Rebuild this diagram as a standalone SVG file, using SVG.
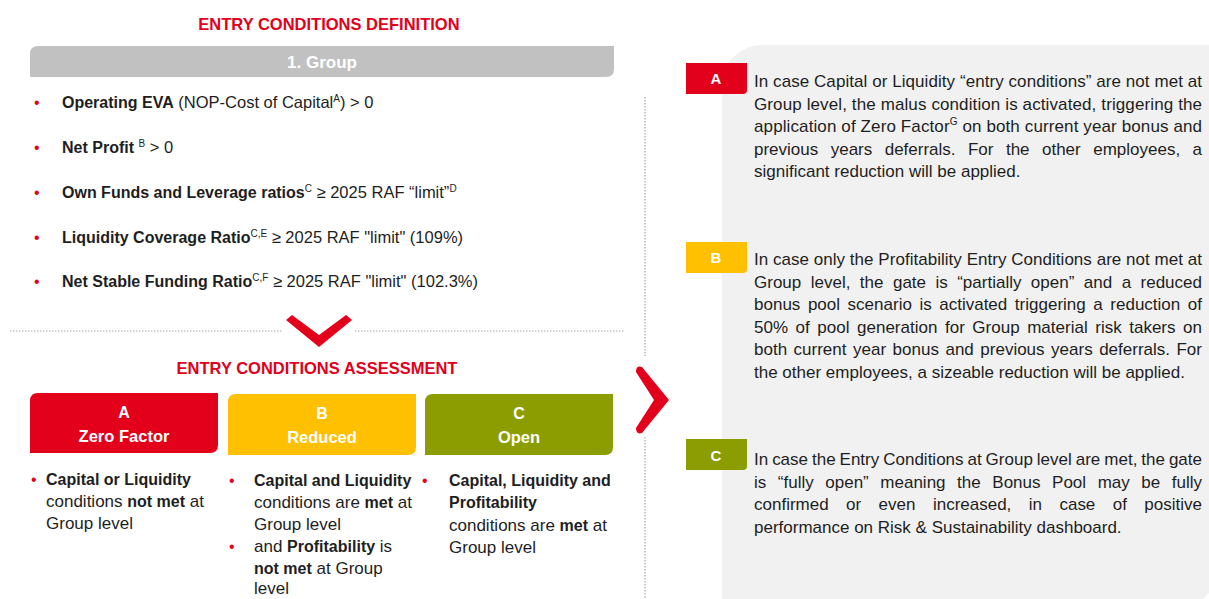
<svg xmlns="http://www.w3.org/2000/svg" width="1209" height="599" viewBox="0 0 1209 599">
<style>
text{font-family:"Liberation Sans",Arial,sans-serif;fill:#1e1e1e}
.h{font-weight:bold;fill:#e2001a;font-size:16.5px;text-anchor:middle}
.w{font-weight:bold;fill:#fff;text-anchor:middle}
.b{font-weight:bold;font-size:16px}
.li{font-size:16.5px}
.col{font-size:17px}
.p{font-size:17px}
.dot{fill:#e2001a;font-size:16px}
.sup{font-size:10px}
.dl{stroke:#a6a6a6;stroke-width:1.2;stroke-dasharray:1.4 1.6;fill:none}
.chev{fill:#e2001a}
</style>
<rect width="1209" height="599" fill="#fff"/>
<g id="panel">
<path d="M722,599 V85 A40,40 0 0 1 762,45 H1209 V593 L1203,599 Z" fill="#f1f1f1"/>
</g>
<g id="title-definition">
<text class="h" x="329" y="30">ENTRY CONDITIONS DEFINITION</text>
</g>
<g id="group-bar">
<path d="M38,46 H614 V69 Q614,77 606,77 H30 V54 Q30,46 38,46 Z" fill="#c1c1c1"/>
<text class="w" x="322" y="68" font-size="17">1. Group</text>
</g>
<g id="conditions-list" class="li">
<text class="dot" x="34" y="108">•</text>
<text x="62" y="108"><tspan class="b">Operating EVA</tspan> (NOP-Cost of Capital<tspan class="sup" dy="-6">A</tspan><tspan dy="6">) &gt; 0</tspan></text>
<text class="dot" x="34" y="153">•</text>
<text x="62" y="153"><tspan class="b">Net Profit</tspan> <tspan class="sup" dy="-6">B</tspan><tspan dy="6"> &gt; 0</tspan></text>
<text class="dot" x="34" y="198">•</text>
<text x="62" y="198"><tspan class="b">Own Funds and Leverage ratios</tspan><tspan class="sup" dy="-6">C</tspan><tspan dy="6"> ≥ 2025 RAF “limit”</tspan><tspan class="sup" dy="-6">D</tspan></text>
<text class="dot" x="34" y="243">•</text>
<text x="62" y="243"><tspan class="b">Liquidity Coverage Ratio</tspan><tspan class="sup" dy="-6">C,E</tspan><tspan dy="6"> ≥ 2025 RAF "limit" (109%)</tspan></text>
<text class="dot" x="34" y="287">•</text>
<text x="62" y="287"><tspan class="b">Net Stable Funding Ratio</tspan><tspan class="sup" dy="-6">C,F</tspan><tspan dy="6"> ≥ 2025 RAF "limit" (102.3%)</tspan></text>
</g>
<g id="connectors">
<line class="dl" x1="10" y1="331" x2="283" y2="331"/>
<line class="dl" x1="355" y1="331" x2="625" y2="331"/>
<line class="dl" x1="645" y1="97" x2="645" y2="356"/>
<line class="dl" x1="645" y1="437" x2="645" y2="599"/>
<path class="chev" d="M286,320 L292,315 L319,335 L346,315 L352,320 L319,347 Z"/>
<path class="chev" d="M636,372 Q636,365 642,367 L669,400 L642,433 Q636,435 636,428 L654,400 Z"/>
</g>
<g id="title-assessment">
<text class="h" x="317" y="374">ENTRY CONDITIONS ASSESSMENT</text>
</g>
<g id="box-a">
<path d="M38,393 H218 V445 Q218,453 210,453 H30 V401 Q30,393 38,393 Z" fill="#e2001a"/>
<text class="w" x="124" y="418" font-size="16">A</text>
<text class="w" x="124" y="442" font-size="16.5">Zero Factor</text>
</g>
<g id="box-b">
<path d="M236,394 H416 V447 Q416,455 408,455 H228 V402 Q228,394 236,394 Z" fill="#fec000"/>
<text class="w" x="322" y="419" font-size="16">B</text>
<text class="w" x="322" y="443" font-size="16.5">Reduced</text>
</g>
<g id="box-c">
<path d="M433,394 H613 V447 Q613,455 605,455 H425 V402 Q425,394 433,394 Z" fill="#8b9d00"/>
<text class="w" x="519" y="419" font-size="16">C</text>
<text class="w" x="519" y="443" font-size="16.5">Open</text>
</g>
<g id="desc-a" class="col">
<text class="dot" x="31" y="485">•</text>
<text class="b" x="46" y="485">Capital or Liquidity</text>
<text x="46" y="507">conditions <tspan class="b">not met</tspan> at</text>
<text x="46" y="529">Group level</text>
</g>
<g id="desc-b" class="col">
<text class="dot" x="229" y="486">•</text>
<text class="b" x="254" y="486">Capital and Liquidity</text>
<text x="254" y="508">conditions are <tspan class="b">met</tspan> at</text>
<text x="254" y="530">Group level</text>
<text class="dot" x="229" y="552">•</text>
<text x="254" y="552">and <tspan class="b">Profitability</tspan> is</text>
<text x="254" y="574"><tspan class="b">not met</tspan> at Group</text>
<text x="254" y="594">level</text>
</g>
<g id="desc-c" class="col">
<text class="dot" x="422" y="486">•</text>
<text class="b" x="449" y="486">Capital, Liquidity and</text>
<text class="b" x="449" y="508">Profitability</text>
<text x="449" y="531">conditions are <tspan class="b">met</tspan> at</text>
<text x="449" y="553">Group level</text>
</g>
<g id="detail-a">
<path d="M686,63 H747 V90 Q747,94 743,94 H686 Z" fill="#e2001a"/>
<text class="w" x="716" y="84" font-size="15">A</text>
<g class="p">
<text x="754" y="87" textLength="448" lengthAdjust="spacing">In case Capital or Liquidity “entry conditions” are not met at</text>
<text x="754" y="109.5" textLength="448" lengthAdjust="spacing">Group level, the malus condition is activated, triggering the</text>
<text x="754" y="132" textLength="448" lengthAdjust="spacing">application of Zero Factor<tspan class="sup" dy="-7">G</tspan><tspan dy="7"> on both current year bonus and</tspan></text>
<text x="754" y="154.5" word-spacing="7.7" textLength="448" lengthAdjust="spacing">previous years deferrals. For the other employees, a</text>
<text x="754" y="177">significant reduction will be applied.</text>
</g>
</g>
<g id="detail-b">
<path d="M686,242 H747 V269 Q747,273 743,273 H686 Z" fill="#fec000"/>
<text class="w" x="716" y="263" font-size="15">B</text>
<g class="p">
<text x="754" y="265" textLength="448" lengthAdjust="spacing">In case only the Profitability Entry Conditions are not met at</text>
<text x="754" y="287.5" word-spacing="4.7" textLength="448" lengthAdjust="spacing">Group level, the gate is “partially open” and a reduced</text>
<text x="754" y="310" word-spacing="2.8" textLength="448" lengthAdjust="spacing">bonus pool scenario is activated triggering a reduction of</text>
<text x="754" y="332.5" word-spacing="2.8" textLength="448" lengthAdjust="spacing">50% of pool generation for Group material risk takers on</text>
<text x="754" y="355" word-spacing="1.8" textLength="448" lengthAdjust="spacing">both current year bonus and previous years deferrals. For</text>
<text x="754" y="377.5">the other employees, a sizeable reduction will be applied.</text>
</g>
</g>
<g id="detail-c">
<path d="M686,439 H747 V466 Q747,470 743,470 H686 Z" fill="#8b9d00"/>
<text class="w" x="716" y="461" font-size="15">C</text>
<g class="p">
<text x="754" y="465" word-spacing="-0.8" textLength="448" lengthAdjust="spacing">In case the Entry Conditions at Group level are met, the gate</text>
<text x="754" y="487.5" word-spacing="6.8" textLength="448" lengthAdjust="spacing">is “fully open” meaning the Bonus Pool may be fully</text>
<text x="754" y="510" word-spacing="12.7" textLength="448" lengthAdjust="spacing">confirmed or even increased, in case of positive</text>
<text x="754" y="532.5">performance on Risk &amp; Sustainability dashboard.</text>
</g>
</g>
</svg>
